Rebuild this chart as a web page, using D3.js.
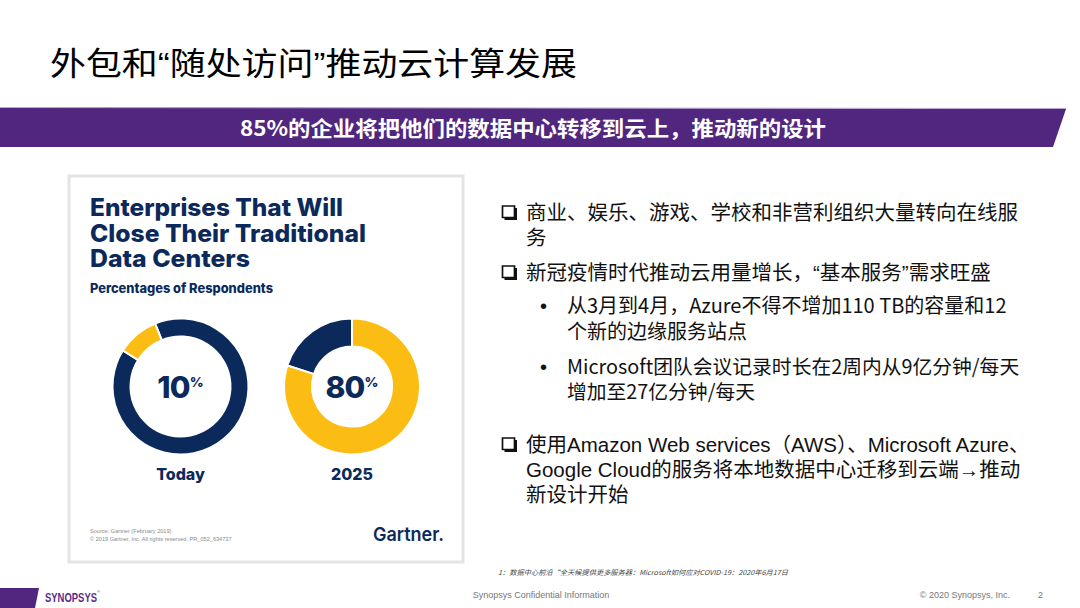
<!DOCTYPE html>
<html>
<head>
<meta charset="utf-8">
<script src="https://cdn.jsdelivr.net/npm/d3@7/dist/d3.min.js"></script>
<style>
  html, body { margin: 0; padding: 0; background: #fff; }
  svg { display: block; }
</style>
</head>
<body>
<svg id="slide" width="1080" height="608"></svg>
<script>
// ---------- data ----------
const slideTitle = "外包和“随处访问”推动云计算发展";
const bannerText = "85%的企业将把他们的数据中心转移到云上，推动新的设计";
const chartTitleLines = ["Enterprises That Will", "Close Their Traditional", "Data Centers"];
const chartSubtitle = "Percentages of Respondents";
const donutLabels = ["Today", "2025"];
const closeShare = [10, 80];          // % of enterprises closing traditional data centers
const keepShare = [90, 20];           // remaining %
const sourceLines = ["Source: Gartner (February 2019)", "© 2019 Gartner, Inc. All rights reserved. PR_052_634737"];
const bulletLevel1a = ["商业、娱乐、游戏、学校和非营利组织大量转向在线服", "务"];
const bulletLevel1b = ["新冠疫情时代推动云用量增长，“基本服务”需求旺盛"];
const subBullet1 = ["从3月到4月，Azure不得不增加110 TB的容量和12", "个新的边缘服务站点"];
const subBullet2 = ["Microsoft团队会议记录时长在2周内从9亿分钟/每天", "增加至27亿分钟/每天"];
const bulletLevel1c = ["使用Amazon Web services（AWS）、Microsoft Azure、", "Google Cloud的服务将本地数据中心迁移到云端→推动", "新设计开始"];
const footnote = "1：数据中心前沿“全天候提供更多服务器：Microsoft如何应对COVID-19：2020年6月17日";
const footerCenter = "Synopsys Confidential Information";
const footerRight = "© 2020 Synopsys, Inc.";
const pageNumber = "2";

// ---------- styles ----------
const NAVY = "#0b2a5b", GOLD = "#fbbd14", PURPLE = "#51267f";
const svg = d3.select("#slide");
const CJK = "'Noto Sans CJK SC', sans-serif";
const LAT = "'Liberation Sans', 'Noto Sans CJK SC', sans-serif";
const GART = "Inter, 'Noto Sans', sans-serif";

// text with narrow (Latin) curly quotes
function mixedQuotes(sel, str, first) {
  str.split(/([“”])/).filter(s => s.length).forEach(s => {
    const t = sel.append("tspan").text(s);
    if (s === "“" || s === "”") t.attr("font-family", "'Liberation Sans', sans-serif");
  });
}

// title
const title = svg.append("text").attr("x", 50).attr("y", 75)
  .attr("font-family", CJK).attr("font-size", 32).attr("fill", "#000")
  .attr("textLength", 527).attr("lengthAdjust", "spacingAndGlyphs");
mixedQuotes(title, slideTitle);

// purple banner
svg.append("path").attr("d", "M0,107 L1066,109 L1053,147 L0,147 Z").attr("fill", PURPLE);
svg.append("line").attr("x1", 0).attr("x2", 1066).attr("y1", 107.5).attr("y2", 108.5)
  .attr("stroke", "#b9a6cf").attr("stroke-width", 1);
svg.append("text").attr("x", 533).attr("y", 136).attr("text-anchor", "middle")
  .attr("font-family", CJK).attr("font-weight", 700).attr("font-size", 21).attr("fill", "#fff")
  .attr("textLength", 586).attr("lengthAdjust", "spacingAndGlyphs")
  .text(bannerText);

// chart card
svg.append("rect").attr("x", 69).attr("y", 176).attr("width", 394).attr("height", 386)
  .attr("fill", "#fff").attr("stroke", "#e4e4e4").attr("stroke-width", 3);

const titleW = [253, 276, 160];
const tt = svg.append("text").attr("font-family", GART).attr("font-weight", 800).attr("fill", NAVY)
  .attr("font-size", 24);
chartTitleLines.forEach((l, i) => {
  tt.append("tspan").attr("x", 90).attr("y", 216 + i * 25.5)
    .attr("textLength", titleW[i]).attr("lengthAdjust", "spacingAndGlyphs").text(l);
});
svg.append("text").attr("x", 90).attr("y", 293).attr("font-size", 13)
  .attr("font-family", GART).attr("font-weight", 800).attr("fill", NAVY)
  .attr("textLength", 183).attr("lengthAdjust", "spacingAndGlyphs").text(chartSubtitle);

// donuts
const cx = d3.scalePoint().domain(donutLabels).range([180.5, 352]);
const outerR = [68, 68];
const innerR = [50, 40];
const rotation = [-22, -72]; // degrees, start of "keep" segment
donutLabels.forEach((lab, i) => {
  const g = svg.append("g").attr("transform", `translate(${cx(lab)},386.5)`);
  const start = rotation[i] * Math.PI / 180;
  const pie = d3.pie().sort(null).startAngle(start).endAngle(start + 2 * Math.PI);
  const arcs = pie([keepShare[i], closeShare[i]]);
  const arc = d3.arc().innerRadius(innerR[i]).outerRadius(outerR[i]);
  g.selectAll("path").data(arcs).join("path")
    .attr("d", arc)
    .attr("fill", (d, j) => j === 0 ? NAVY : GOLD)
    .attr("stroke", "#fff").attr("stroke-width", 2);
  const t = g.append("text").attr("text-anchor", "middle").attr("y", 11.5)
    .attr("font-family", GART).attr("font-weight", 800).attr("fill", NAVY);
  t.append("tspan").attr("font-size", 30).attr("letter-spacing", -0.8).text(closeShare[i]);
  t.append("tspan").attr("font-size", 13.5).attr("dy", -11.5).text("%");
  svg.append("text").attr("x", cx(lab)).attr("y", 480).attr("text-anchor", "middle")
    .attr("font-family", GART).attr("font-weight", 800).attr("font-size", 16).attr("fill", NAVY)
    .text(lab);
});

// source + logo
const src = svg.append("text").attr("font-family", "'Liberation Sans', sans-serif")
  .attr("font-size", 5.6).attr("fill", "#8a8a8a");
sourceLines.forEach((s, i) => {
  src.append("tspan").attr("x", 90).attr("y", 533 + i * 7.5).text(s);
});
svg.append("text").attr("x", 373).attr("y", 541)
  .attr("font-family", GART).attr("font-weight", 600).attr("font-size", 19).attr("fill", NAVY)
  .attr("textLength", 71).attr("lengthAdjust", "spacingAndGlyphs").text("Gartner.");

// right-hand bullet text
const tx = svg.append("g").attr("fill", "#111");
function box(y) {
  // shadowed square bullet
  tx.append("path").attr("d", `M502.5,${y - 13} h12 v11.5 h-12 Z`)
    .attr("fill", "none").attr("stroke", "#111").attr("stroke-width", 1.7);
  tx.append("path").attr("d", `M504.5,${y} h11.5 v-11`)
    .attr("fill", "none").attr("stroke", "#111").attr("stroke-width", 2);
}
function lines(arr, x, y0, lh, size, fam) {
  const t = tx.append("text").attr("font-family", fam).attr("font-size", size);
  arr.forEach((l, i) => {
    const ln = t.append("tspan").attr("x", x).attr("y", y0 + i * lh);
    mixedQuotes(ln, l);
  });
}
box(219); lines(bulletLevel1a, 526, 220, 25, 20.5, CJK);
box(279); lines(bulletLevel1b, 526, 280, 25, 20.5, CJK);
tx.append("text").attr("x", 540).attr("y", 313).attr("font-family", LAT).attr("font-size", 20).text("•");
lines(subBullet1, 567, 313, 26, 20, CJK);
tx.append("text").attr("x", 540).attr("y", 374).attr("font-family", LAT).attr("font-size", 20).text("•");
lines(subBullet2, 567, 374, 25, 19.8, CJK);
box(451); lines(bulletLevel1c, 526, 452, 25, 20.5, LAT);

// footnote
svg.append("text").attr("x", 498).attr("y", 575)
  .attr("font-family", CJK).attr("font-size", 6.8).attr("font-style", "italic").attr("fill", "#444")
  .attr("textLength", 290).attr("lengthAdjust", "spacingAndGlyphs")
  .text(footnote);

// footer
svg.append("path").attr("d", "M0,588 L39,588 L35,608 L0,608 Z").attr("fill", PURPLE);
const logo = svg.append("text").attr("x", 45).attr("y", 602)
  .attr("font-family", "'Liberation Sans Narrow', 'Liberation Sans', sans-serif").attr("font-weight", 700)
  .attr("font-size", 13).attr("fill", "#5b2b86");
logo.append("tspan").attr("textLength", 52).attr("lengthAdjust", "spacingAndGlyphs").text("SYNOPSYS");
logo.append("tspan").attr("font-size", 4).attr("dy", -9).attr("font-weight", 400).text("®");
svg.append("text").attr("x", 541).attr("y", 598).attr("text-anchor", "middle")
  .attr("font-family", LAT).attr("font-size", 9).attr("fill", "#777").text(footerCenter);
svg.append("text").attr("x", 1010).attr("y", 598).attr("text-anchor", "end")
  .attr("font-family", LAT).attr("font-size", 9).attr("fill", "#777").text(footerRight);
svg.append("text").attr("x", 1043).attr("y", 598).attr("text-anchor", "end")
  .attr("font-family", LAT).attr("font-size", 9).attr("fill", "#777").text(pageNumber);
</script>
</body>
</html>
